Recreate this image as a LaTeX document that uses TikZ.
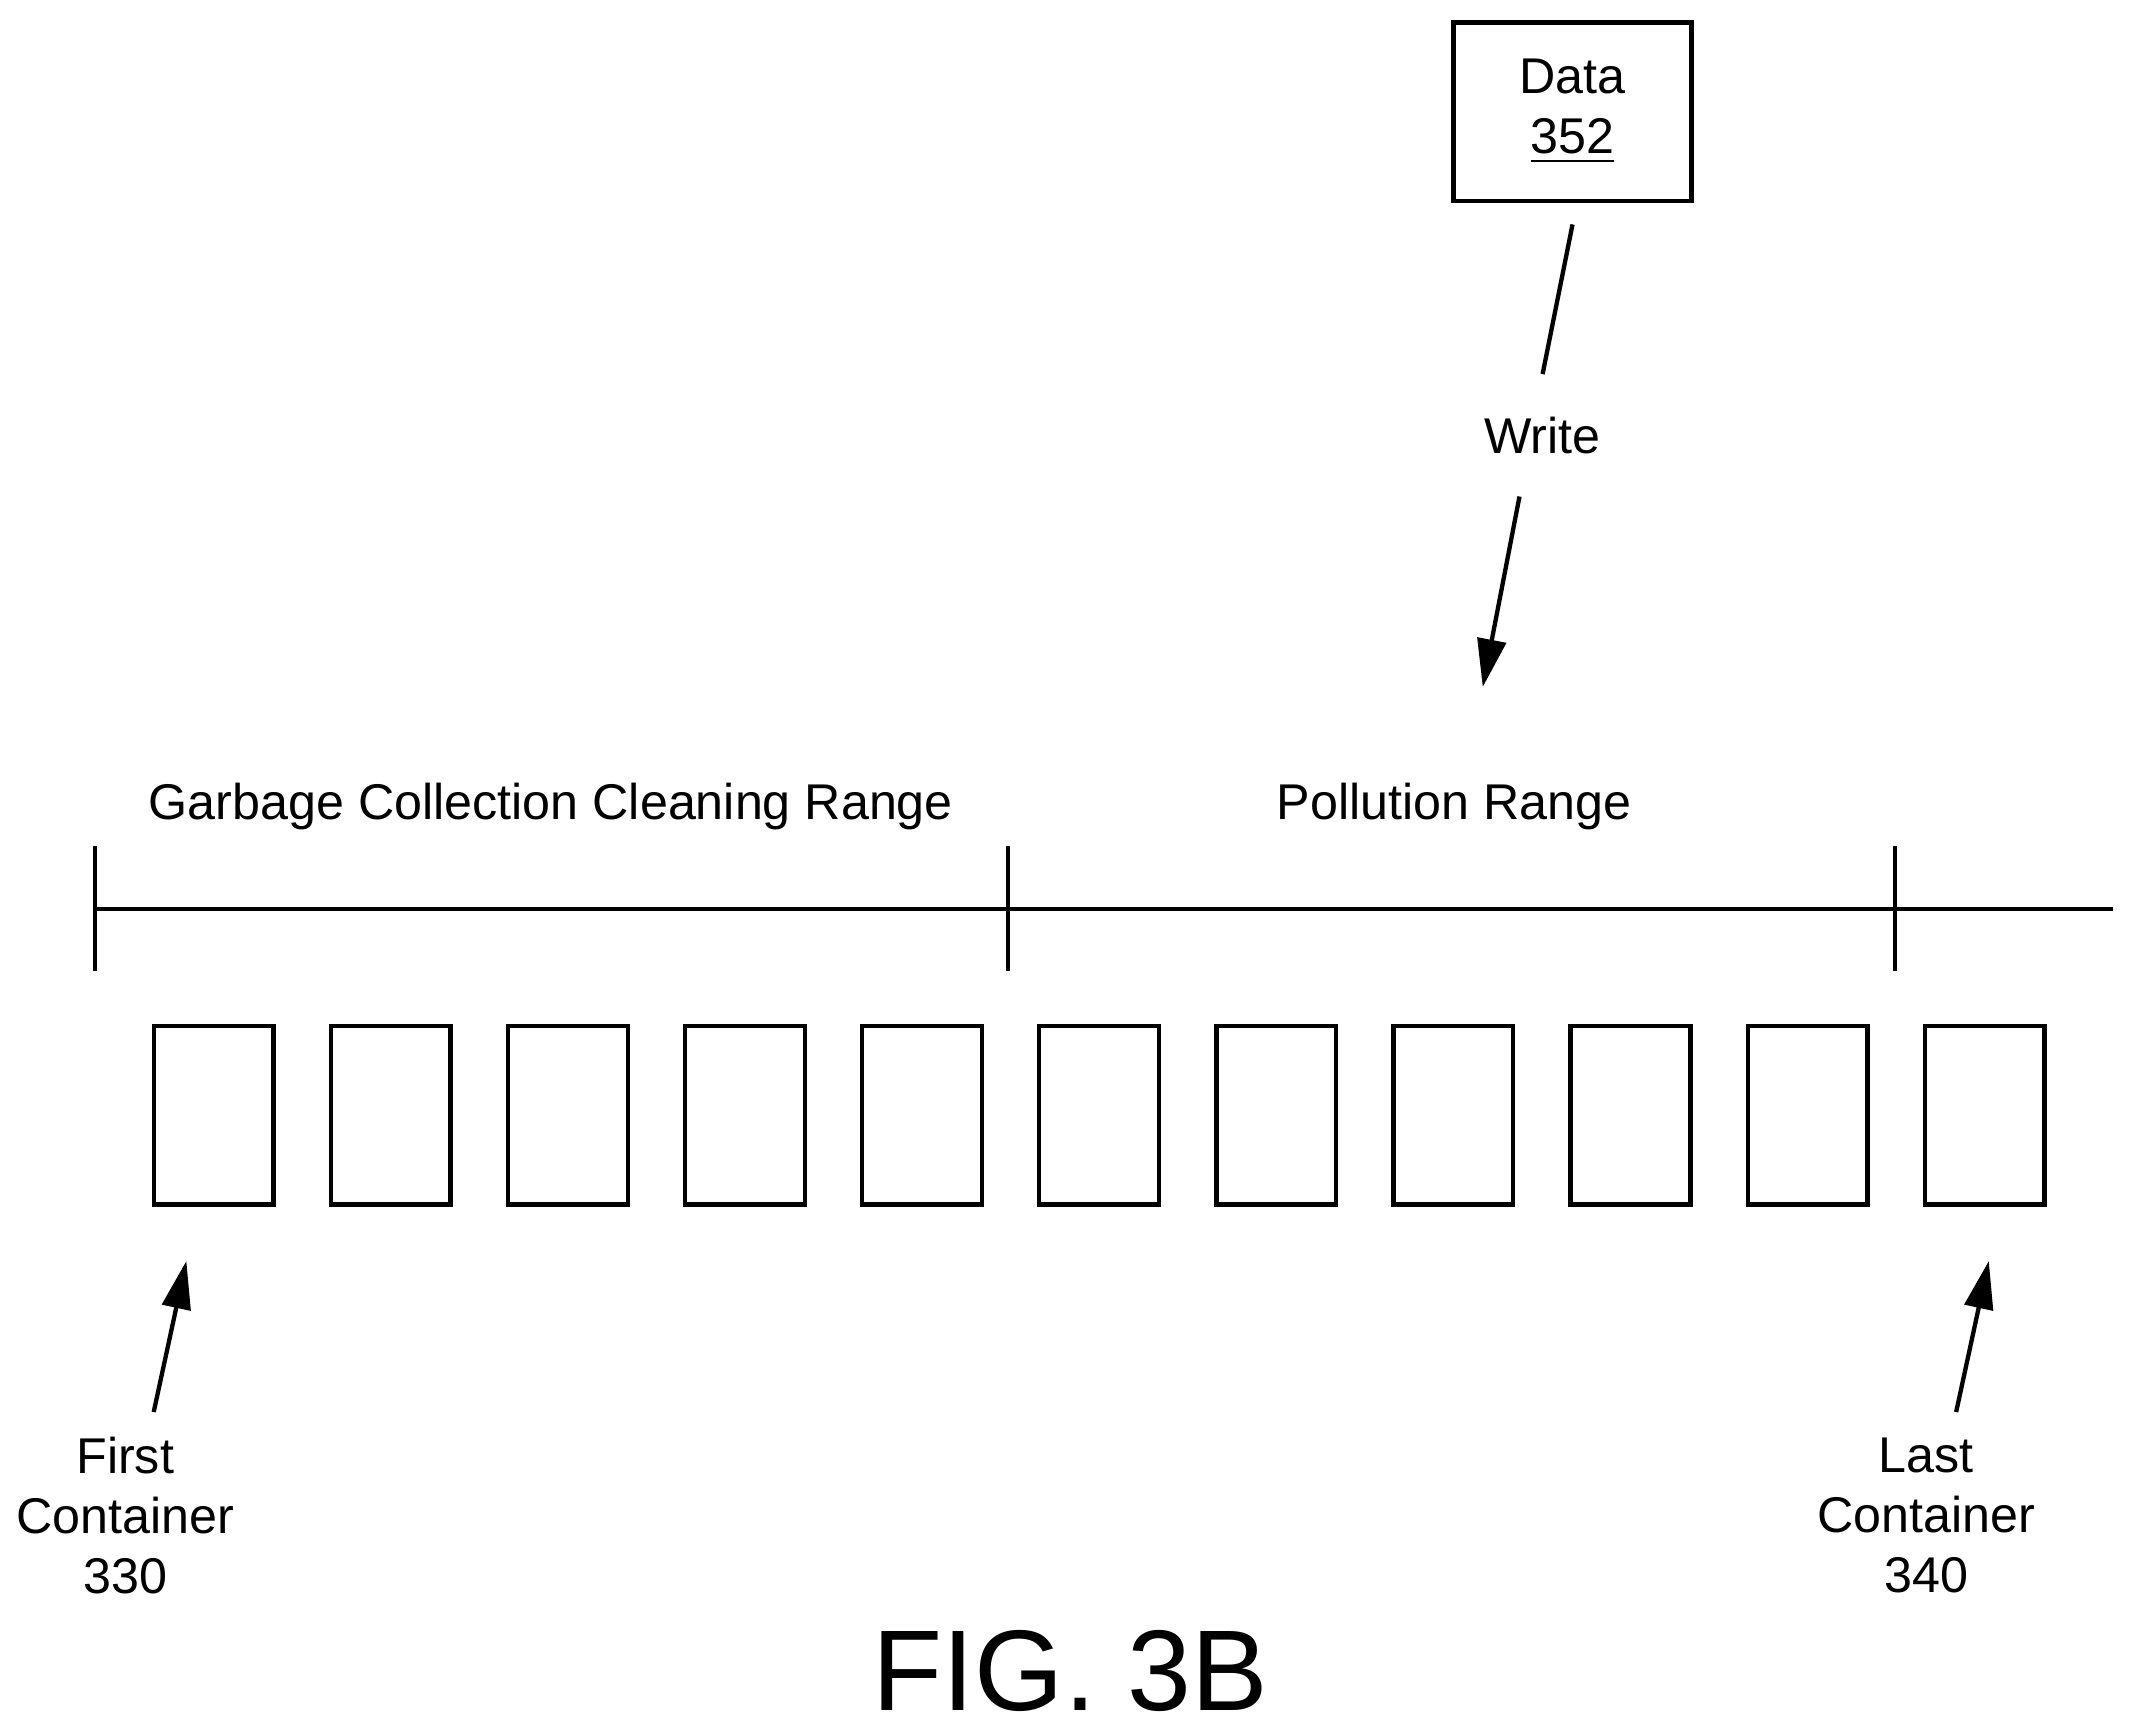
\documentclass[tikz,border=0pt]{standalone}
\usepackage{fontspec}
\setmainfont{Liberation Sans}
\usetikzlibrary{arrows.meta}
\begin{document}
\begin{tikzpicture}[x=0.01cm,y=-0.01cm,line width=0.9pt,
  cont/.style={draw,minimum width=0.88cm,minimum height=1.31cm,inner sep=0pt},
  lbl/.style={font=\fontsize{10.5}{12.5}\selectfont,align=center},
  arr/.style={-{Triangle[length=10pt,width=6pt]}}]
\useasboundingbox (0,0) rectangle (1568,1270);
% data box and write arrow
\node [draw,minimum width=1.75cm,minimum height=1.31cm,lbl] (data) at (1156,82) {Data\\\underline{352}};
\coordinate (w1) at (1156,165);
\coordinate (w2) at (1134,275);
\draw (w1) -- (w2);
\node [lbl] (write) at (1134,320) {Write};
\coordinate (w3) at (1117,365);
\coordinate (w4) at (1090,505);
\draw [arr] (w3) -- (w4);
% range line
\coordinate (l0) at (70,668);
\coordinate (l1) at (1553,668);
\draw (l0) -- (l1);
\foreach \x/\n in {70/ta,741/tb,1393/tc}{
  \coordinate (\n1) at (\x,622);
  \coordinate (\n2) at (\x,714);
  \draw (\n1) -- (\n2);
}
\node [lbl] (gc) at (405,593) {Garbage Collection Cleaning Range};
\node [lbl] (pol) at (1069,593) {Pollution Range};
% containers
\foreach \i in {0,...,10}
  \node [cont] (c\i) at (157+130.2*\i,820) {};
% first / last
\node [lbl] (first) at (92,1114) {First\\Container\\330};
\node [lbl] (last) at (1416,1114) {Last\\Container\\340};
\coordinate (f1) at (113,1038);
\coordinate (f2) at (137,927);
\coordinate (g1) at (1438,1038);
\coordinate (g2) at (1462,927);
\draw [arr] (f1) -- (f2);
\draw [arr] (g1) -- (g2);
\node [font=\fontsize{24}{28}\selectfont] (fig) at (787,1228) {FIG. 3B};
\end{tikzpicture}
\end{document}
